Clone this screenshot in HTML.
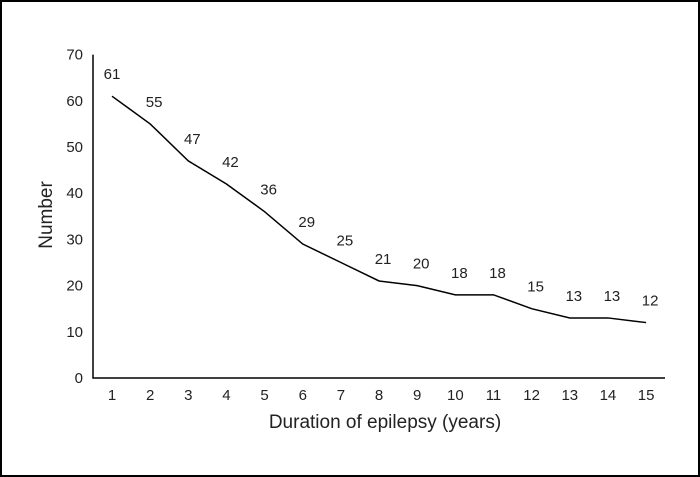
<!DOCTYPE html>
<html><head><meta charset="utf-8"><style>
body{margin:0;background:#fff}
svg{display:block;font-family:"Liberation Sans",sans-serif}
</style></head><body>
<svg width="700" height="477">
<rect x="1" y="1" width="698" height="475" fill="#fff" stroke="#000" stroke-width="2"/>
<g id="g"></g>
</svg>
<script>
const years=[1,2,3,4,5,6,7,8,9,10,11,12,13,14,15];
const counts=[61,55,47,42,36,29,25,21,20,18,18,15,13,13,12];
const yTicks=[0,10,20,30,40,50,60,70];
const ns="http://www.w3.org/2000/svg";
const g=document.getElementById('g');
const x0=93,yb=378;
const xs=v=>112+(v-1)*38.15;
const ys=v=>yb-v*4.62;
function mk(t,a){const e=document.createElementNS(ns,t);for(const k in a)e.setAttribute(k,a[k]);g.appendChild(e);return e;}
let ax=mk('path',{d:`M${x0},${ys(70)}V${yb}H665`,fill:'none',stroke:'#000','stroke-width':1.5});


yTicks.forEach(v=>{const t=mk('text',{x:83,y:ys(v)+5,'text-anchor':'end','font-size':15,fill:'#222'});t.textContent=v;

});
years.forEach(v=>{const t=mk('text',{x:xs(v),y:400,'text-anchor':'middle','font-size':15,fill:'#222'});t.textContent=v;

});
let ln=mk('polyline',{points:years.map((y,i)=>xs(y)+','+ys(counts[i])).join(' '),fill:'none',stroke:'#000','stroke-width':1.5});


years.forEach((y,i)=>{const t=mk('text',{x:xs(y)+(i==0?0:4),y:ys(counts[i])-17,'text-anchor':'middle','font-size':15,fill:'#222'});t.textContent=counts[i];

});
let xt=mk('text',{x:385,y:428,'text-anchor':'middle','font-size':19,fill:'#222'});xt.textContent='Duration of epilepsy (years)';


let yt=mk('text',{x:0,y:0,transform:'translate(52,215) rotate(-90)','text-anchor':'middle','font-size':19,fill:'#222'});yt.textContent='Number';


</script>
</body></html>
